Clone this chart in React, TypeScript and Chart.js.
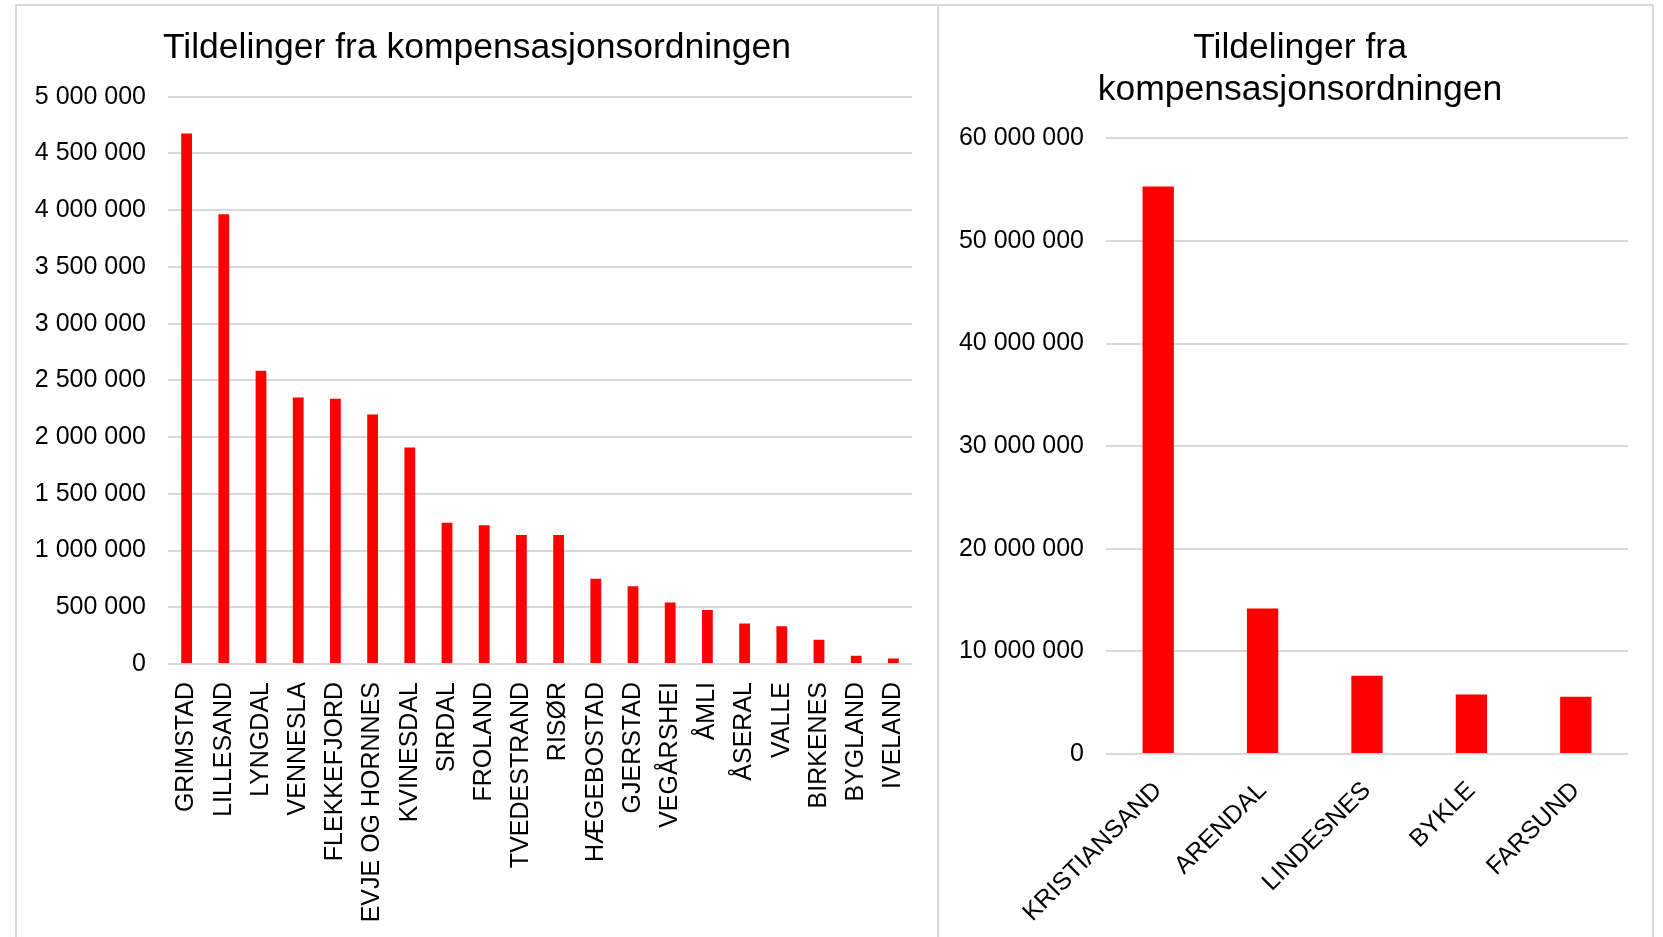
import React, { useEffect, useRef } from "react";
import { Chart, registerables } from "chart.js";

Chart.register(...registerables);

const TITLE_LEFT = "Tildelinger fra kompensasjonsordningen";
const TITLE_RIGHT = ["Tildelinger fra", "kompensasjonsordningen"];

const smallMunicipalities = [
  "GRIMSTAD", "LILLESAND", "LYNGDAL", "VENNESLA", "FLEKKEFJORD", "EVJE OG HORNNES",
  "KVINESDAL", "SIRDAL", "FROLAND", "TVEDESTRAND", "RISØR", "HÆGEBOSTAD",
  "GJERSTAD", "VEGÅRSHEI", "ÅMLI", "ÅSERAL", "VALLE", "BIRKENES", "BYGLAND", "IVELAND",
];
const smallValues = [
  4675000, 3963000, 2585000, 2349000, 2338000, 2199000,
  1908000, 1246000, 1223000, 1138000, 1138000, 752000,
  686000, 542000, 476000, 356000, 332000, 213000, 72000, 48000,
];

const largeMunicipalities = ["KRISTIANSAND", "ARENDAL", "LINDESNES", "BYKLE", "FARSUND"];
const largeValues = [55300000, 14190000, 7620000, 5810000, 5580000];

const leftAxisMax = 5000000;
const leftAxisStep = 500000;
const rightAxisMax = 60000000;
const rightAxisStep = 10000000;

const FONT = "'Liberation Sans', Arial, sans-serif";
const GRID = "#d9d9d9";
const RED = "#ff0000";

function fmt(v: number): string {
  return String(Math.round(v)).replace(/\B(?=(\d{3})+(?!\d))/g, " ");
}

type Cfg = {
  labels: string[];
  values: number[];
  title: string | string[];
  max: number;
  step: number;
  width: number;
  height: number;
  yWidth: number;
  rightWidth: number;
  xHeight: number;
  titleBottom: number;
  rotation: number;
  barPct: number;
  xPad: number;
};

function BarChart({ cfg, style }: { cfg: Cfg; style: React.CSSProperties }) {
  const ref = useRef<HTMLCanvasElement>(null);
  useEffect(() => {
    if (!ref.current) return;
    const chart = new Chart(ref.current, {
      type: "bar",
      data: {
        labels: cfg.labels,
        datasets: [
          {
            data: cfg.values,
            backgroundColor: RED,
            borderWidth: 0,
            categoryPercentage: 1,
            barPercentage: cfg.barPct,
            yAxisID: "y",
          },
        ],
      },
      options: {
        responsive: false,
        animation: false,
        devicePixelRatio: 1,
        layout: { padding: 0 },
        plugins: {
          legend: { display: false },
          tooltip: { enabled: false },
          title: {
            display: true,
            text: cfg.title,
            color: "#000000",
            font: { family: FONT, size: 35.5, weight: "normal", lineHeight: 42 / 35.5 },
            padding: { top: 20, bottom: cfg.titleBottom },
          },
        },
        scales: {
          x: {
            grid: { display: false, drawTicks: false },
            border: { display: false },
            ticks: {
              color: "#000000",
              font: { family: FONT, size: 25 },
              minRotation: cfg.rotation,
              maxRotation: cfg.rotation,
              autoSkip: false,
              padding: cfg.xPad,
            },
            afterFit: (s: any) => {
              s.height = cfg.xHeight;
              s.paddingLeft = 0;
              s.paddingRight = 0;
            },
          },
          y: {
            position: "left",
            min: 0,
            max: cfg.max,
            grid: { color: GRID, lineWidth: 2, drawTicks: false },
            border: { display: false },
            ticks: {
              stepSize: cfg.step,
              color: "#000000",
              font: { family: FONT, size: 25 },
              padding: 22,
              callback: (v: any) => fmt(Number(v)),
            },
            afterFit: (s: any) => {
              s.width = cfg.yWidth;
            },
          },
          spacer: {
            type: "linear",
            position: "right",
            display: true,
            grid: { display: false, drawTicks: false },
            border: { display: false },
            ticks: { display: false },
            afterFit: (s: any) => {
              s.width = cfg.rightWidth;
            },
          },
        },
      },
    });
    return () => chart.destroy();
  }, []);
  return <canvas ref={ref} width={cfg.width} height={cfg.height} style={style} />;
}

const leftCfg: Cfg = {
  labels: smallMunicipalities,
  values: smallValues,
  title: TITLE_LEFT,
  max: leftAxisMax,
  step: leftAxisStep,
  width: 902,
  height: 930,
  yWidth: 142,
  rightWidth: 16,
  xHeight: 273,
  titleBottom: 27.7,
  rotation: 90,
  barPct: 0.29,
  xPad: 18,
};

const rightCfg: Cfg = {
  labels: largeMunicipalities,
  values: largeValues,
  title: TITLE_RIGHT,
  max: rightAxisMax,
  step: rightAxisStep,
  width: 700,
  height: 930,
  yWidth: 156,
  rightWidth: 22,
  xHeight: 183,
  titleBottom: 27.3,
  rotation: 45,
  barPct: 0.3,
  xPad: 22,
};

export default function App() {
  const box: React.CSSProperties = {
    position: "fixed",
    border: `2px solid ${GRID}`,
    boxSizing: "border-box",
    background: "transparent",
  };
  return (
    <div style={{ position: "fixed", left: 0, top: 0, width: 1663, height: 937, background: "#ffffff", overflow: "hidden" }}>
      <div style={{ ...box, left: 15, top: 4, width: 924, height: 1000 }} />
      <div style={{ ...box, left: 937, top: 4, width: 717, height: 1000 }} />
      <BarChart cfg={leftCfg} style={{ position: "fixed", left: 26, top: 7 }} />
      <BarChart cfg={rightCfg} style={{ position: "fixed", left: 950, top: 7 }} />
    </div>
  );
}
